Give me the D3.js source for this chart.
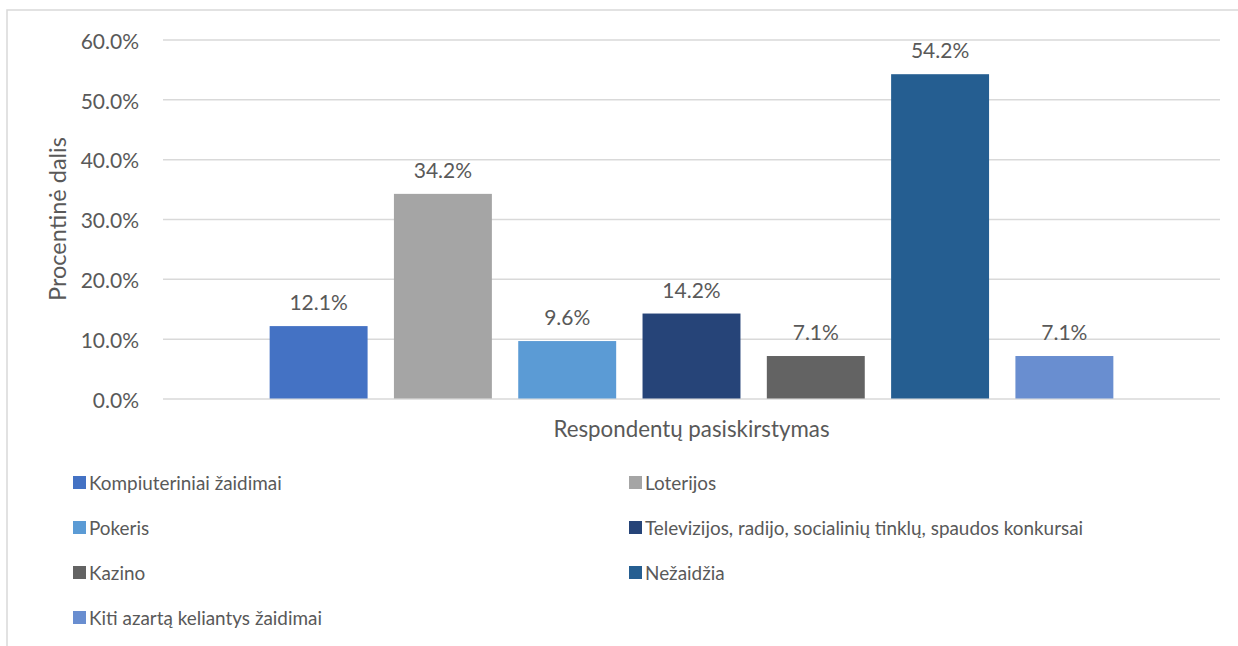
<!DOCTYPE html>
<html>
<head>
<meta charset="utf-8">
<script src="https://cdn.jsdelivr.net/npm/d3@7"></script>
<style>
  body { margin: 0; background: #fff; }
  svg { display: block; font-family: Lato, "Open Sans", sans-serif; }
  .tick text, .label, .title, .legend text { fill: #595959; }
</style>
</head>
<body>
<script>
var categories = ["Kompiuteriniai žaidimai", "Loterijos", "Pokeris",
  "Televizijos, radijo, socialinių tinklų, spaudos konkursai",
  "Kazino", "Nežaidžia", "Kiti azartą keliantys žaidimai"]
var values = [12.1, 34.2, 9.6, 14.2, 7.1, 54.2, 7.1]
var colors = ["#4472C4", "#A5A5A5", "#5B9BD5", "#264478", "#636363", "#255E91", "#698ED0"]
var yTicks = [0, 10, 20, 30, 40, 50, 60]

var width = 1238, height = 646
var plotLeft = 163, plotRight = 1220, plotTop = 39.5, plotBottom = 398.5

var svg = d3.select("body").append("svg")
  .attr("width", width)
  .attr("height", height)

//chart border
svg.append("rect")
  .attr("x", 7)
  .attr("y", 10)
  .attr("width", 1300)
  .attr("height", 700)
  .attr("fill", "none")
  .attr("stroke", "#D9D9D9")
  .attr("stroke-width", 1.5)

var y = d3.scaleLinear()
  .domain([0, 60])
  .range([plotBottom, plotTop])

var x = d3.scaleBand()
  .domain(categories)
  .range([plotLeft, plotRight])
  .paddingInner(0.212)
  .paddingOuter(0.858)

//y axis with gridlines
var yAxis = svg.append("g")
  .attr("transform", "translate(" + plotLeft + ",0)")
  .call(d3.axisLeft(y)
    .tickValues(yTicks)
    .tickSizeInner(-(plotRight - plotLeft))
    .tickSizeOuter(0)
    .tickPadding(24)
    .tickFormat(function (d) { return d.toFixed(1) + "%"; }))
yAxis.select(".domain").remove()
yAxis.selectAll(".tick line")
  .attr("stroke", "#D9D9D9")
  .attr("stroke-width", 1.5)
yAxis.selectAll(".tick text")
  .attr("font-size", 21)
  .attr("font-family", "Lato")
  .attr("dy", "0.42em")

//bars
svg.append("g")
  .selectAll("rect")
  .data(values)
  .join("rect")
  .attr("x", (d, i) => x(categories[i]))
  .attr("y", d => y(d))
  .attr("width", x.bandwidth())
  .attr("height", d => y(0) - y(d))
  .attr("fill", (d, i) => colors[i])

//value labels
svg.append("g")
  .selectAll("text")
  .data(values)
  .join("text")
  .attr("class", "label")
  .attr("x", (d, i) => x(categories[i]) + x.bandwidth() / 2)
  .attr("y", d => y(d) - 16)
  .attr("text-anchor", "middle")
  .attr("font-size", 21)
  .text(d => d.toFixed(1) + "%")

//axis titles
svg.append("text")
  .attr("class", "title")
  .attr("transform", "translate(66,219) rotate(-90)")
  .attr("text-anchor", "middle")
  .attr("font-size", 23.5)
  .text("Procentinė dalis")

svg.append("text")
  .attr("class", "title")
  .attr("x", (plotLeft + plotRight) / 2)
  .attr("y", 437)
  .attr("text-anchor", "middle")
  .attr("font-size", 22.3)
  .text("Respondentų pasiskirstymas")

//legend
var colX = [73, 629]
var lg = svg.append("g").attr("class", "legend")
  .selectAll("g")
  .data(categories)
  .join("g")
  .attr("transform", (d, i) => "translate(" + colX[i % 2] + "," + (483 + Math.floor(i / 2) * 45) + ")")
lg.append("rect")
  .attr("x", 0)
  .attr("y", -7)
  .attr("width", 13)
  .attr("height", 13)
  .attr("fill", (d, i) => colors[i])
lg.append("text")
  .attr("x", 16)
  .attr("y", 7)
  .attr("font-size", 18.9)
  .text(d => d)
</script>
</body>
</html>
